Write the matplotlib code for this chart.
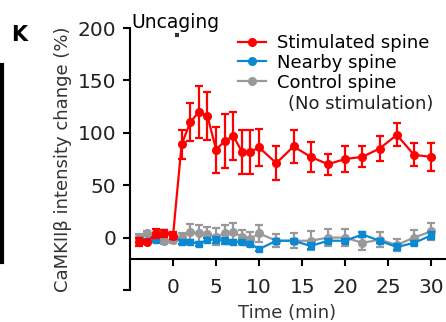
import numpy as np
import matplotlib.pyplot as plt
from matplotlib.lines import Line2D

plt.rcParams['font.family'] = ['DejaVu Sans']

# time points (min)
t = [-4, -3, -2, -1, 0, 1, 2, 3, 4, 5, 6, 7, 8, 9, 10, 12, 14, 16, 18, 20, 22, 24, 26, 28, 30]

# stimulated spine
stim = [-4, -4, 4, 4, 2, 89, 110, 120, 116, 84, 92, 97, 82, 82, 86, 71, 87, 77, 70, 75, 77, 85, 98, 79, 77]
stim_err = [4, 2, 4, 3, 3, 14, 18, 25, 23, 22, 26, 23, 21, 21, 18, 16, 16, 14, 10, 12, 10, 12, 11, 11, 13]

# nearby spine
near = [-2, -3, -2, 5, 2, -4, -4, -6, -2, -2, -3, -4, -4, -6, -11, -3, -3, -8, -3, -3, 3, -3, -9, -5, 2]
near_err = [2, 2, 2, 2, 2, 2, 2, 2, 2, 3, 3, 2, 2, 2, 2, 2, 2, 3, 2, 2, 2, 2, 3, 2, 3]

# control spine
ctrl = [1, 4, -1, -3, -2, 1, 5, 4, 3, 1, 4, 5, 1, -1, 4, -3, -3, -3, 0, 0, -5, -2, -7, 0, 6]
ctrl_err = [2, 2, 3, 3, 3, 3, 8, 8, 7, 8, 8, 9, 6, 6, 8, 6, 7, 9, 8, 8, 7, 7, 6, 7, 8]

yticks = [-50, 0, 50, 100, 150, 200]
ytick_labels = ['', '0', '50', '100', '150', '200']
xticks = [0, 5, 10, 15, 20, 25, 30]
labels = ['Stimulated spine', 'Nearby spine', 'Control spine']

red = '#ff0000'
blue = '#0a88d2'
gray = '#999999'
txt = '#222222'

fig = plt.figure(figsize=(4.46, 3.22), dpi=100)
ax = fig.add_axes([130 / 446, 32 / 322, 315 / 446, 262 / 322])

ekw = dict(marker='o', markersize=5.5, linewidth=1.6, elinewidth=1.6, capsize=3, capthick=1.6)
ax.errorbar(t, ctrl, yerr=ctrl_err, color=gray, zorder=2, **ekw)
ax.errorbar(t, near, yerr=near_err, color=blue, zorder=3, **dict(ekw, marker='s', markersize=5))
ax.errorbar(t, stim, yerr=stim_err, color=red, zorder=4, **ekw)

ax.set_xlim(-5, 31.6)
ax.set_ylim(-50, 200)
ax.spines['top'].set_visible(False)
ax.spines['right'].set_visible(False)
ax.spines['bottom'].set_position(('data', -20))
for s in ['left', 'bottom']:
    ax.spines[s].set_linewidth(1.5)
ax.set_yticks(yticks)
ax.set_yticklabels(ytick_labels)
ax.set_xticks(xticks)
ax.tick_params(axis='both', labelsize=14.5, width=1.5, length=5, colors='black', labelcolor=txt)
ax.tick_params(axis='x', pad=9)
ax.tick_params(axis='y', pad=5)
ax.set_xlabel('Time (min)', fontsize=13, color='#333333')
ax.set_ylabel('CaMKIIβ intensity change (%)', fontsize=13, color='#333333')
ax.xaxis.set_label_coords(0.5, -0.052)
ax.yaxis.set_label_coords(-0.184, 0.5)

# uncaging marker
ax.plot([0.2, 0.7], [193, 193], color='#333333', linewidth=3, solid_capstyle='butt', clip_on=False)
ax.text(-4.85, 205, 'Uncaging', fontsize=13.5, ha='left', va='center', color='black')

# legend
handles = [Line2D([], [], color=c, marker='o', markersize=5.5, linewidth=1.6) for c in (red, blue, gray)]
leg = ax.legend(handles, labels, loc='upper left', bbox_to_anchor=(238 / 446, 1 - 34 / 322),
                bbox_transform=fig.transFigure, frameon=False, fontsize=13,
                handlelength=1.55, handletextpad=0.6, labelspacing=0.1,
                borderaxespad=0, borderpad=0)
fig.text(288 / 446, 1 - 104 / 322, '(No stimulation)', fontsize=13, va='center', ha='left', color=txt)

# panel letter and edge of neighbouring panel
fig.text(11 / 446, 1 - 35 / 322, 'K', fontsize=15, fontweight='bold', va='center', ha='left')
fig.add_artist(Line2D([1.5 / 446, 1.5 / 446], [1 - 65 / 322, 1 - 262 / 322], color='black', linewidth=3))

fig.savefig('out.png', dpi=100)
